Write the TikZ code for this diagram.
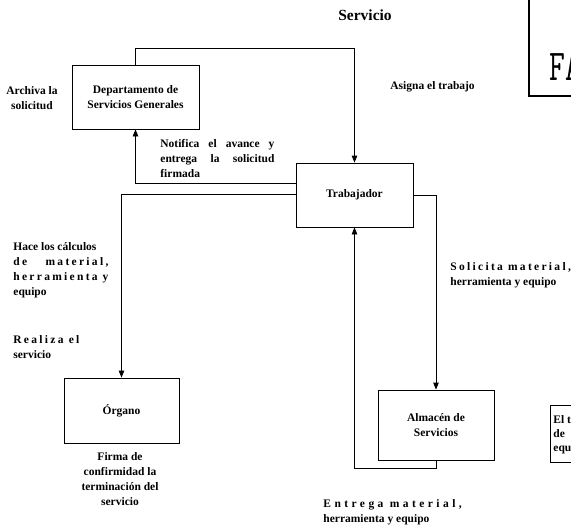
\documentclass[tikz,border=0pt]{standalone}
\usepackage{fontspec}
\setmainfont{Liberation Serif}
\usepackage{tikz}
\usetikzlibrary{arrows.meta, positioning}
\newcommand{\spaced}[1]{{\addfontfeature{LetterSpace=20}#1}}

\begin{document}
\begin{tikzpicture}[x=1pt, y=-1pt, line width=0.8pt,
    every node/.style={font=\bfseries\fontsize{11.5}{15}\selectfont},
    box/.style={draw, align=center, inner sep=2pt},
    flow/.style={-{Triangle[length=7pt, width=5.5pt]}},
    lbl/.style={align=left, inner sep=0pt, anchor=north west}]
  \useasboundingbox (0,0) rectangle (571,531);
  \clip (0,0) rectangle (571,531);
  % --- title -------------------------------------------------------
  \node[font=\bfseries\fontsize{15.5}{18}\selectfont] (title) at (365, 15) {Servicio};
  % --- boxes -------------------------------------------------------
  \node[box, minimum width=127pt, minimum height=64pt] (dept) at (135.5, 97)
    {Departamento de\\ Servicios Generales};
  \node[box, minimum width=117pt, minimum height=64pt] (trab) at (354.5, 195) {Trabajador};
  \node[box, minimum width=115pt, minimum height=65pt] (organo) at (121.5, 410.5) {Órgano};
  \node[box, minimum width=116pt, minimum height=70pt] (almacen) at (436, 425)
    {Almacén de\\ Servicios};
  % --- boxes cut by the page edge ---------------------------------
  \node[draw, line width=2pt, minimum width=100pt, minimum height=120pt, anchor=south west]
    (fabox) at (528, 97) {};
  \node[anchor=base west, inner sep=0pt, font=\ttfamily\fontsize{44}{44}\selectfont]
    (fa) at (549, 80) {\scalebox{0.7}[1]{FA}};
  \node[draw, minimum width=60pt, minimum height=57pt, anchor=north west, inner sep=0pt]
    (elbox) at (550, 405) {};
  \node[lbl, font=\bfseries\fontsize{11.5}{14}\selectfont] (eltxt) at (553, 415) {El t\\de\\equ};
  % --- connectors --------------------------------------------------
  \draw[flow] (dept.north) -- ++(0,-16) -| (trab.north);
  \draw[flow] ([yshift=12pt]trab.west) -| (dept.south);
  \draw[flow] ([yshift=1pt]trab.west) -| (organo.north);
  \draw[flow] (trab.east) -| (almacen.north);
  \draw[flow] (almacen.south) -- ++(0,8) -| (trab.south);
  % --- labels ------------------------------------------------------
  \node[align=center, inner sep=0pt, anchor=north] (archiva) at (32, 86) {Archiva la\\ solicitud};
  \node[lbl] (notifica) at (160, 139)
    {\makebox[114pt][s]{Notifica el avance y}\\ \makebox[114pt][s]{entrega la solicitud}\\ firmada};
  \node[lbl] (asigna) at (390, 81) {Asigna el trabajo};
  \node[lbl] (hace) at (13, 242)
    {Hace los cálculos\\ \makebox[95pt][s]{\spaced{de material,}}\\
     \makebox[95pt][s]{\spaced{herramienta y}}\\ equipo};
  \node[lbl] (realiza) at (13, 335) {\spaced{Realiza el}\\ servicio};
  \node[align=center, inner sep=0pt, anchor=north] (firma) at (120, 452)
    {Firma de\\ confirmidad la\\ terminación del\\ servicio};
  \node[lbl] (solicita) at (450, 262) {\spaced{Solicita material,}\\ herramienta y equipo};
  \node[lbl] (entrega) at (323, 499) {{\addfontfeature{LetterSpace=30}Entrega material,}\\ herramienta y equipo};
\end{tikzpicture}
\end{document}
